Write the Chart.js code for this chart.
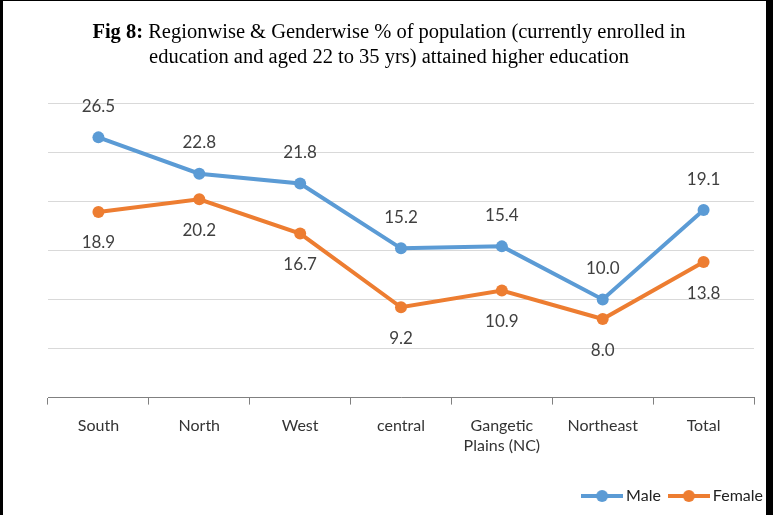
<!DOCTYPE html>
<html>
<head>
<meta charset="utf-8">
<script src="https://cdn.jsdelivr.net/npm/chart.js@4.4.1/dist/chart.umd.min.js"></script>
<style>
  html, body { margin: 0; padding: 0; background: #fff; }
  #wrap { position: relative; width: 773px; height: 515px; box-sizing: border-box;
          border-left: 3px solid #000; border-top: 1px solid #000; border-right: 7px solid #000; }
  canvas { display: block; }
</style>
</head>
<body>
<div id="wrap"><canvas id="chart" width="763" height="514"></canvas></div>
<script>
// data
const categories = ['South', 'North', 'West', 'central', ['Gangetic', 'Plains (NC)'], 'Northeast', 'Total'];
const maleValues = [26.5, 22.8, 21.8, 15.2, 15.4, 10.0, 19.1];
const femaleValues = [18.9, 20.2, 16.7, 9.2, 10.9, 8.0, 13.8];
const titleBold = 'Fig 8:';
const titleLine1 = ' Regionwise & Genderwise % of population (currently enrolled in';
const titleLine2 = 'education and aged 22 to 35 yrs) attained higher education';

const BLUE = '#5b9bd5';
const ORANGE = '#ed7d31';
const FONT = 'Lato, "Open Sans", sans-serif';
const TFONT = '"Liberation Serif", serif';

// small line+dot image for the legend
function legendMark(color) {
  const c = document.createElement('canvas');
  c.width = 42; c.height = 14;
  const g = c.getContext('2d');
  g.strokeStyle = color; g.lineWidth = 4;
  g.beginPath(); g.moveTo(0, 7); g.lineTo(42, 7); g.stroke();
  g.fillStyle = color;
  g.beginPath(); g.arc(21, 7, 6, 0, Math.PI * 2); g.fill();
  return c;
}

const titlePlugin = {
  id: 'figTitle',
  afterDraw(chart) {
    const ctx = chart.ctx;
    const cx = 386;
    ctx.save();
    ctx.fillStyle = '#000';
    ctx.textBaseline = 'alphabetic';
    ctx.textAlign = 'left';
    ctx.font = 'bold 20.5px ' + TFONT;
    const wb = ctx.measureText(titleBold).width;
    ctx.font = '20.5px ' + TFONT;
    const w1 = ctx.measureText(titleLine1).width;
    const x = cx - (wb + w1) / 2;
    ctx.font = 'bold 20.5px ' + TFONT;
    ctx.fillText(titleBold, x, 37);
    ctx.font = '20.5px ' + TFONT;
    ctx.fillText(titleLine1, x + wb, 37);
    ctx.textAlign = 'center';
    ctx.fillText(titleLine2, cx, 62);
    ctx.restore();
  }
};

const labelPlugin = {
  id: 'pointLabels',
  afterDatasetsDraw(chart) {
    const ctx = chart.ctx;
    ctx.save();
    ctx.font = '17px ' + FONT;
    ctx.fillStyle = '#404040';
    ctx.textAlign = 'center';
    ctx.textBaseline = 'middle';
    chart.data.datasets.forEach((ds, i) => {
      const meta = chart.getDatasetMeta(i);
      const off = i === 0 ? -31 : 31;
      meta.data.forEach((pt, j) => {
        ctx.fillText(ds.data[j].toFixed(1), pt.x, pt.y + off);
      });
    });
    ctx.restore();
  }
};

new Chart(document.getElementById('chart'), {
  type: 'line',
  data: {
    labels: categories,
    datasets: [
      { label: 'Male', data: maleValues, borderColor: BLUE, backgroundColor: BLUE,
        borderWidth: 4, pointRadius: 6, pointBackgroundColor: BLUE, pointBorderWidth: 0, tension: 0 },
      { label: 'Female', data: femaleValues, borderColor: ORANGE, backgroundColor: ORANGE,
        borderWidth: 4, pointRadius: 6, pointBackgroundColor: ORANGE, pointBorderWidth: 0, tension: 0 }
    ]
  },
  options: {
    responsive: false,
    animation: false,
    // negative right padding lets the legend run into the right margin
    layout: { padding: { left: 45, right: -9, top: 102, bottom: 1 } },
    elements: { point: { pointStyle: 'circle' } },
    scales: {
      x: {
        offset: true,
        grid: { offset: true, drawOnChartArea: false, drawTicks: true, tickLength: 7, color: '#808080' },
        border: { display: true, color: '#808080', width: 1 },
        ticks: { color: '#333', font: { family: FONT, size: 16 }, padding: 12, maxRotation: 0 },
        afterFit(s) { s.height += 9; }
      },
      y: {
        position: 'right',
        min: 0, max: 30,
        ticks: { display: false, stepSize: 5 },
        grid: { color: '#d9d9d9', drawTicks: false },
        border: { display: false },
        afterFit(s) { s.width = 21; }
      }
    },
    plugins: {
      title: { display: false },
      tooltip: { enabled: false },
      legend: {
        position: 'bottom',
        align: 'end',
        labels: {
          usePointStyle: true,
          pointStyleWidth: 32,
          color: '#222',
          font: { family: FONT, size: 16 },
          padding: 12,
          generateLabels(chart) {
            return chart.data.datasets.map((ds, i) => ({
              text: ds.label,
              pointStyle: legendMark(ds.borderColor),
              fillStyle: ds.borderColor,
              strokeStyle: ds.borderColor,
              lineWidth: 0,
              fontColor: '#222',
              datasetIndex: i
            }));
          }
        }
      }
    }
  },
  plugins: [titlePlugin, labelPlugin]
});
</script>
</body>
</html>
